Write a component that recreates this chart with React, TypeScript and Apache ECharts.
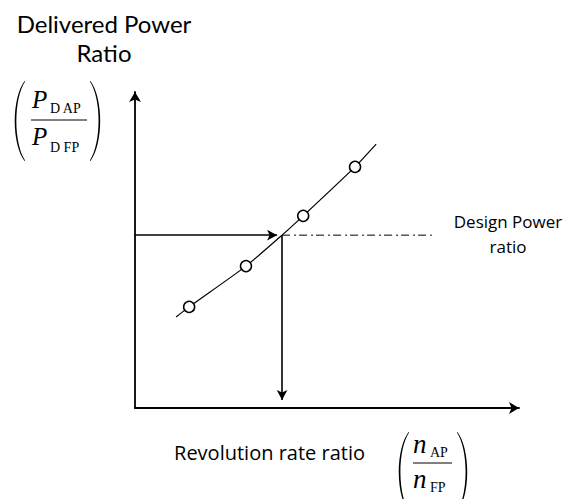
import React, { useEffect, useRef } from "react";
import * as echarts from "echarts";

// ---- data (arbitrary 0..10 units on both axes) ----
const curveX = [1.07, 1.41, 2.89, 3.83, 4.38, 5.73, 6.28];
const curveY = [2.88, 3.2, 4.49, 5.47, 6.08, 7.63, 8.35];
const markerX = [1.41, 2.89, 4.38, 5.73];
const markerY = [3.2, 4.49, 6.08, 7.63];
const designX = 3.83;
const designY = 5.47;
const designLineEndX = 7.73;
const arrowEndX = 3.7;
const arrowEndY = 0.25;
const axisMin = 0;
const axisMax = 10;

const yTitleLines = ["Delivered Power", "Ratio"];
const xTitle = "Revolution rate ratio";
const designLabel = ["Design Power", "ratio"];
const yFracTop = { main: "P", sub: "D AP" };
const yFracBottom = { main: "P", sub: "D FP" };
const xFracTop = { main: "n", sub: "AP" };
const xFracBottom = { main: "n", sub: "FP" };

const PAREN_D =
  "M10 0 C-3 18 -3 62 10 80 L10.6 79.4 C-1 62 -1 18 10.6 0.6 Z";
echarts.graphic.registerShape("paren", echarts.graphic.extendPath(PAREN_D, {}));

const SANS = "'Open Sans', sans-serif";
const TITLE = "Lato, 'Open Sans', sans-serif";
const SERIF = "'Liberation Serif', 'Times New Roman', serif";

function txt(text: string, x: number, y: number, size: number, family: string, opts: any = {}) {
  return {
    type: "text",
    x,
    y,
    z: 100,
    style: {
      text,
      fill: "#000",
      fontSize: size,
      fontFamily: family,
      fontStyle: opts.italic ? "italic" : "normal",
      align: opts.align || "left",
      verticalAlign: "middle",
      lineHeight: opts.lineHeight,
    },
  };
}

export default function App() {
  const ref = useRef<HTMLDivElement>(null);
  useEffect(() => {
    if (!ref.current) return;
    const chart = echarts.init(ref.current, undefined, { renderer: "svg" });
    const axisCommon = {
      type: "value",
      min: axisMin,
      max: axisMax,
      axisLine: {
        show: true,
        onZero: false,
        symbol: ["none", "arrow"],
        symbolSize: [9, 10],
        lineStyle: { color: "#000", width: 1.8 },
      },
      axisTick: { show: false },
      axisLabel: { show: false },
      splitLine: { show: false },
    };
    const option: any = {
      animation: false,
      backgroundColor: "#fff",
      grid: { left: 135, right: 53, top: 92, bottom: 91, containLabel: false, outerBoundsMode: "none" },
      xAxis: axisCommon,
      yAxis: axisCommon,
      series: [
        {
          type: "line",
          data: curveX.map((x, i) => [x, curveY[i]]),
          smooth: 0.2,
          symbol: "none",
          lineStyle: { color: "#000", width: 1.2 },
          z: 3,
        },
        {
          type: "line",
          data: [
            [designX, designY],
            [designLineEndX, designY],
          ],
          symbol: "none",
          lineStyle: { color: "#000", width: 1, type: [8, 4, 2, 3] },
          z: 2,
          markLine: {
            silent: true,
            symbol: ["none", "arrow"],
            symbolSize: [8, 10],
            lineStyle: { color: "#000", width: 1.6, type: "solid" },
            label: { show: false },
            emphasis: { disabled: true },
            data: [
              [{ coord: [axisMin, designY] }, { coord: [arrowEndX, designY] }],
              [{ coord: [designX, designY] }, { coord: [designX, arrowEndY] }],
            ],
          },
        },
        {
          type: "scatter",
          data: markerX.map((x, i) => [x, markerY[i]]),
          symbol: "circle",
          symbolSize: 11,
          itemStyle: { color: "#fff", borderColor: "#000", borderWidth: 1.5, opacity: 1 },
          z: 5,
        },
      ],
      graphic: [
        txt(yTitleLines.join("\n"), 104, 37.5, 24, TITLE, { align: "center", lineHeight: 29 }),
        txt(designLabel.join("\n"), 508, 233.5, 17, SANS, { align: "center", lineHeight: 25 }),
        txt(xTitle, 269.5, 452, 20, SANS, { align: "center" }),
        // y fraction
        { type: "paren", x: 14.5, y: 81, z: 100, style: { fill: "#000" } },
        { type: "paren", x: 100.5, y: 81, scaleX: -1, z: 100, style: { fill: "#000" } },
        txt(yFracTop.main, 32, 99.5, 25, SERIF, { italic: true }),
        txt(yFracTop.sub, 50, 108.5, 14, SERIF),
        { type: "line", z: 100, shape: { x1: 31, y1: 120, x2: 87, y2: 120 }, style: { stroke: "#000", lineWidth: 1 } },
        txt(yFracBottom.main, 32, 136.5, 25, SERIF, { italic: true }),
        txt(yFracBottom.sub, 50, 147.3, 14, SERIF),
        // x fraction
        { type: "paren", x: 398.5, y: 432, z: 100, style: { fill: "#000" } },
        { type: "paren", x: 467.5, y: 432, scaleX: -1, z: 100, style: { fill: "#000" } },
        txt(xFracTop.main, 413, 444, 27, SERIF, { italic: true }),
        txt(xFracTop.sub, 430, 452.3, 14, SERIF),
        { type: "line", z: 100, shape: { x1: 413, y1: 463, x2: 452, y2: 463 }, style: { stroke: "#000", lineWidth: 1 } },
        txt(xFracBottom.main, 413, 479, 27, SERIF, { italic: true }),
        txt(xFracBottom.sub, 430, 487.3, 14, SERIF),
      ],
    };
    chart.setOption(option);
    return () => chart.dispose();
  }, []);
  return (
    <div
      ref={ref}
      style={{ position: "fixed", left: 0, top: 0, width: 572, height: 499, background: "#fff" }}
    />
  );
}
